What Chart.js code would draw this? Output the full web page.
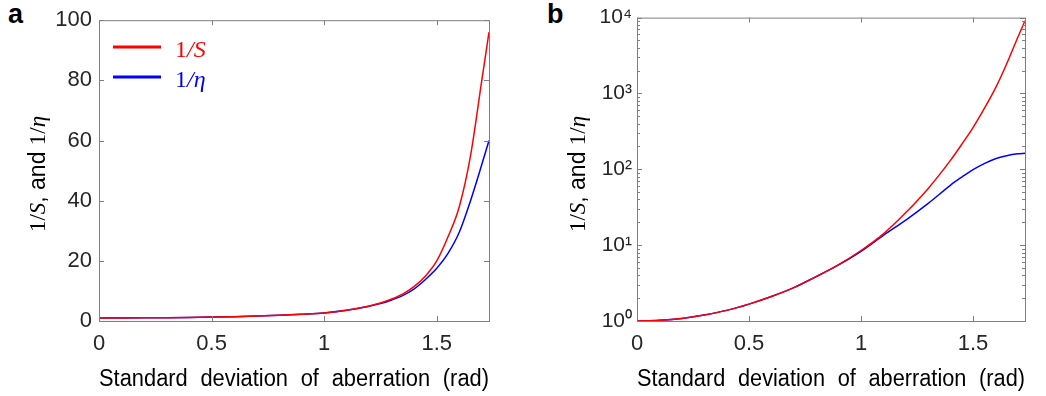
<!DOCTYPE html>
<html>
<head>
<meta charset="utf-8">
<script src="https://cdn.jsdelivr.net/npm/chart.js@4/dist/chart.umd.min.js"></script>
<style>
  body { margin: 0; background: #fff; width: 1046px; height: 396px; position: relative; overflow: hidden; font-family: "Liberation Sans", Arial, sans-serif; }
  canvas { position: absolute; top: 0; }
  #chartA { left: 0; }
  #chartB { left: 520px; }
  .tag { position: absolute; top: 1px; font-weight: bold; font-size: 27px; line-height: 27px; }
</style>
</head>
<body>
<div class="tag" style="left:8px">a</div>
<div class="tag" style="left:547px">b</div>
<canvas id="chartA" width="500" height="396"></canvas>
<canvas id="chartB" width="526" height="396"></canvas>
<script>
// panel a: linear axis
const sigmaA = [0, 0.1, 0.2, 0.3, 0.4, 0.5, 0.6, 0.7, 0.8, 0.9, 1.0, 1.1, 1.2, 1.25, 1.3, 1.35, 1.4, 1.45, 1.5, 1.55, 1.6, 1.65, 1.7, 1.732];
const invStrehlA = [1.0, 1.01, 1.04, 1.1, 1.18, 1.3, 1.45, 1.65, 1.9, 2.25, 2.7, 3.6, 5.0, 6.0, 7.3, 9.0, 11.5, 15.0, 20, 28, 38, 55, 80, 96];
const invEtaA = [1.0, 1.01, 1.04, 1.1, 1.18, 1.3, 1.45, 1.65, 1.9, 2.25, 2.7, 3.55, 4.9, 5.8, 7.0, 8.5, 10.7, 13.8, 17.5, 22.5, 29.5, 40, 52, 60];

// panel b: log axis
const sigmaB = [0, 0.1, 0.2, 0.3, 0.4, 0.5, 0.6, 0.7, 0.8, 0.9, 1.0, 1.1, 1.2, 1.3, 1.4, 1.45, 1.5, 1.55, 1.6, 1.65, 1.7, 1.732];
const invStrehlB = [1, 1.02, 1.08, 1.2, 1.38, 1.67, 2.1, 2.75, 3.85, 5.55, 8.5, 14.1, 26.9, 56, 132, 214, 355, 630, 1175, 2450, 5500, 9100];
const invEtaB = [1, 1.02, 1.08, 1.2, 1.38, 1.67, 2.1, 2.75, 3.85, 5.5, 8.3, 13.5, 21.4, 35.5, 62, 79, 99, 119, 138, 151, 160, 163];

const xTicks = [0, 0.5, 1, 1.5];
const yTicksA = [0, 20, 40, 60, 80, 100];
const yTicksB = [1, 10, 100, 1000, 10000];
const seriesNames = ["1/S", "1/\u03b7"];
const seriesColors = ["#ff0000", "#0000ff"];
const xMax = 1.732;
const xTitle = "Standard deviation of aberration (rad)";
const sup = ["\u2070", "\u00b9", "\u00b2", "\u00b3", "\u2074"];

const tickFont = { family: "'Liberation Sans', Arial, sans-serif", size: 22 };

function pts(xs, ys) {
    return xs.map((x, i) => ({ x: x, y: ys[i] }));
}

// box + inward ticks on all four sides, like matlab
const framePlugin = {
    id: "frame",
    beforeDraw(chart) {
        chart.ctx.wordSpacing = "7px";
    },
    afterDraw(chart) {
        const { ctx, chartArea: a, scales } = chart;
        ctx.save();
        ctx.strokeStyle = "#7f7f7f";
        ctx.lineWidth = 1;
        ctx.strokeRect(a.left + 0.5, a.top + 0.5, a.right - a.left, a.bottom - a.top);
        ctx.beginPath();
        scales.x.ticks.forEach(t => {
            const x = Math.round(scales.x.getPixelForValue(t.value)) + 0.5;
            ctx.moveTo(x, a.bottom); ctx.lineTo(x, a.bottom - 5);
            ctx.moveTo(x, a.top); ctx.lineTo(x, a.top + 5);
        });
        scales.y.ticks.forEach(t => {
            const y = Math.round(scales.y.getPixelForValue(t.value)) + 0.5;
            ctx.moveTo(a.left, y); ctx.lineTo(a.left + 5, y);
            ctx.moveTo(a.right, y); ctx.lineTo(a.right - 5, y);
        });
        if (scales.y.type === "logarithmic") {
            for (let d = 1; d < 10000; d *= 10) {
                for (let m = 2; m < 10; m++) {
                    const y = Math.round(scales.y.getPixelForValue(d * m)) + 0.5;
                    ctx.moveTo(a.left, y); ctx.lineTo(a.left + 3, y);
                    ctx.moveTo(a.right, y); ctx.lineTo(a.right - 3, y);
                }
            }
        }
        ctx.stroke();
        ctx.restore();
    }
};

// y title with italic S and eta
const yTitlePlugin = {
    id: "ytitle",
    afterDraw(chart, args, opts) {
        const ctx = chart.ctx;
        const serif = "23px 'Liberation Serif', serif";
        const serifIt = "italic 23px 'Liberation Serif', serif";
        const sans = "23px 'Liberation Sans', Arial, sans-serif";
        const parts = [["1/", serif], ["S", serifIt], [", and ", sans], ["1/", serif], ["\u03b7", serifIt]];
        ctx.save();
        ctx.wordSpacing = "0px";
        let w = 0;
        parts.forEach(p => { ctx.font = p[1]; w += ctx.measureText(p[0]).width; });
        ctx.translate(opts.x, opts.y);
        ctx.rotate(-Math.PI / 2);
        ctx.fillStyle = "#000";
        ctx.textBaseline = "alphabetic";
        let x = -w / 2;
        parts.forEach(p => {
            ctx.font = p[1];
            ctx.fillText(p[0], x, 0);
            x += ctx.measureText(p[0]).width;
        });
        ctx.restore();
    }
};

// legend drawn inside the plot area
const insideLegend = {
    id: "insideLegend",
    afterDatasetsDraw(chart, args, opts) {
        if (!opts.show) return;
        const ctx = chart.ctx;
        ctx.save();
        ctx.wordSpacing = "0px";
        chart.data.datasets.forEach((ds, i) => {
            const y = opts.top + i * opts.gap;
            ctx.strokeStyle = ds.borderColor;
            ctx.lineWidth = 3;
            ctx.beginPath();
            ctx.moveTo(opts.left, y);
            ctx.lineTo(opts.left + 48, y);
            ctx.stroke();
            ctx.fillStyle = ds.borderColor;
            ctx.textBaseline = "alphabetic";
            ctx.font = "24px 'Liberation Serif', serif";
            const first = ds.label.charAt(0);
            ctx.fillText(first, opts.left + 62, y + 10);
            const w = ctx.measureText(first).width;
            ctx.font = "italic 24px 'Liberation Serif', serif";
            ctx.fillText(ds.label.slice(1), opts.left + 62 + w, y + 10);
        });
        ctx.restore();
    }
};

function makeOptions(yScale, leftWidth, rightPad, titleX, legendOn) {
    return {
        responsive: false,
        animation: false,
        layout: { padding: { left: 0, right: rightPad, top: 15, bottom: 0 } },
        plugins: {
            legend: { display: false },
            tooltip: { enabled: false },
            ytitle: { x: titleX, y: 174 },
            insideLegend: { show: legendOn, left: 113, top: 47, gap: 30 }
        },
        elements: { point: { radius: 0 } },
        scales: {
            x: {
                type: "linear",
                min: 0,
                max: xMax,
                afterBuildTicks: s => { s.ticks = xTicks.map(v => ({ value: v })); },
                afterFit: s => { s.height = 75; },
                grid: { display: false, drawTicks: false },
                border: { display: false },
                ticks: {
                    padding: 10,
                    color: "#262626",
                    font: tickFont,
                    callback: v => String(v)
                },
                title: {
                    display: true,
                    text: xTitle,
                    color: "#000",
                    font: { family: "'Liberation Sans', Arial, sans-serif", size: 23 },
                    padding: { top: 0, bottom: 3 }
                }
            },
            y: Object.assign({
                afterFit: s => { s.width = leftWidth; },
                grid: { display: false, drawTicks: false },
                border: { display: false }
            }, yScale)
        }
    };
}

new Chart(document.getElementById("chartA"), {
    type: "line",
    data: {
        datasets: [{
            label: seriesNames[0],
            data: pts(sigmaA, invStrehlA),
            borderColor: seriesColors[0],
            borderWidth: 1.5,
            cubicInterpolationMode: "monotone"
        }, {
            label: seriesNames[1],
            data: pts(sigmaA, invEtaA),
            borderColor: seriesColors[1],
            borderWidth: 1.5,
            cubicInterpolationMode: "monotone"
        }]
    },
    options: makeOptions({
        type: "linear",
        min: 0,
        max: 100,
        afterBuildTicks: s => { s.ticks = yTicksA.map(v => ({ value: v })); },
        ticks: { padding: 7, color: "#262626", font: tickFont }
    }, 99, 11, 45, true),
    plugins: [framePlugin, yTitlePlugin, insideLegend]
});

new Chart(document.getElementById("chartB"), {
    type: "line",
    data: {
        datasets: [{
            label: seriesNames[0],
            data: pts(sigmaB, invStrehlB),
            borderColor: seriesColors[0],
            borderWidth: 1.5,
            cubicInterpolationMode: "monotone"
        }, {
            label: seriesNames[1],
            data: pts(sigmaB, invEtaB),
            borderColor: seriesColors[1],
            borderWidth: 1.5,
            cubicInterpolationMode: "monotone"
        }]
    },
    options: makeOptions({
        type: "logarithmic",
        min: 1,
        max: 10000,
        afterBuildTicks: s => { s.ticks = yTicksB.map(v => ({ value: v })); },
        ticks: {
            padding: 5,
            color: "#262626",
            font: { family: "'Liberation Sans', Arial, sans-serif", size: 21 },
            callback: v => "10" + sup[Math.round(Math.log10(v))]
        }
    }, 117, 21, 65, false),
    plugins: [framePlugin, yTitlePlugin, insideLegend]
});
</script>
</body>
</html>
